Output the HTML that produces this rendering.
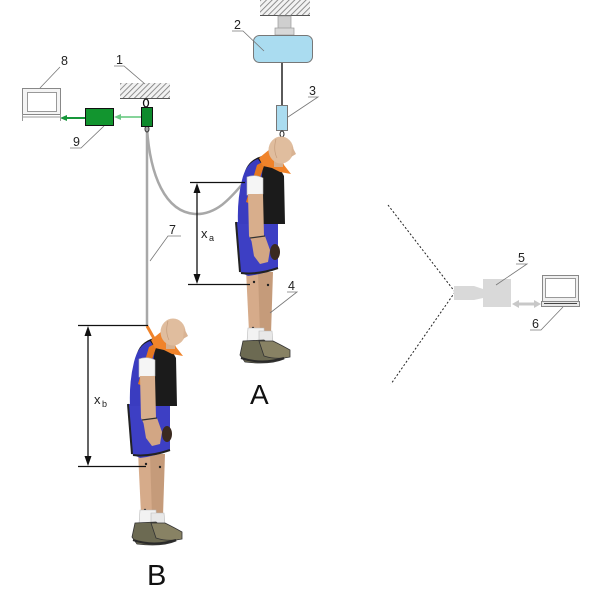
<!DOCTYPE html>
<html><head><meta charset="utf-8"><style>
html,body{margin:0;padding:0;background:#fff;}
svg{display:block;}
text{font-family:"Liberation Sans",Arial,sans-serif;}
</style></head><body>
<svg width="600" height="609" viewBox="0 0 600 609" xmlns="http://www.w3.org/2000/svg">
<defs>
<pattern id="hatch" patternUnits="userSpaceOnUse" width="4" height="4" patternTransform="rotate(45)">
<rect width="4" height="4" fill="#f2f2f2"/>
<line x1="0" y1="0" x2="0" y2="4" stroke="#777" stroke-width="1.6"/>
</pattern>
<g id="dm">
<!-- legs -->
<polygon points="246,270 262,270 263,332 249,332" fill="#d6ab8a"/>
<polygon points="258,272 273,272 271,334 260,334" fill="#c59b7a"/>
<circle cx="254" cy="282" r="1.2" fill="#222"/>
<circle cx="268" cy="285" r="1.2" fill="#222"/>
<circle cx="253" cy="328" r="1.2" fill="#222"/>
<!-- socks -->
<path d="M248,328 L264,328 L265,342 L247,342 Z" fill="#f2f2f2" stroke="#bbb" stroke-width="0.6"/>
<path d="M259,331 L272,331 L273,343 L259,343 Z" fill="#e8e8e8" stroke="#bbb" stroke-width="0.6"/>
<!-- shoes -->
<path d="M243,341 L264,340 Q272,347 282,351 L284,359 Q270,365 245,362 L240,355 Z" fill="#6c6a52" stroke="#333" stroke-width="0.8"/>
<path d="M259,341 L273,341 Q283,346 290,350 L290,357 Q276,360 264,356 Z" fill="#888264" stroke="#333" stroke-width="0.8"/>
<path d="M241,358 Q262,365 284,358" fill="none" stroke="#2a2a2a" stroke-width="2"/>
<!-- shorts -->
<path d="M236,222 L278,222 L278,268 Q264,274 248,276 L240,272 Z" fill="#3d3fc4"/>
<path d="M241,273 Q258,275 278,268" fill="none" stroke="#222" stroke-width="2"/>
<path d="M236,222 L240,272" fill="none" stroke="#222" stroke-width="2"/>
<!-- torso -->
<path d="M244,175 Q247,160 262,156 L275,160 L284,176 L285,224 L238,224 Q238,198 244,175 Z" fill="#1b1b1b"/>
<path d="M242,180 Q246,163 258,159 L263,166 L256,224 L238,224 Q237,200 242,180 Z" fill="#3a3cc0"/>
<!-- harness -->
<path d="M257,165 L266,160 L251,204 L246,202 Z" fill="#e57820"/>
<path d="M259,158 L270,149 L278,151 L284,165 L291,174 L280,172 L272,168 L263,166 Z" fill="#f0832a"/>
<!-- neck/head -->
<rect x="274" y="158" width="9" height="9" fill="#d5b090"/>
<ellipse cx="281" cy="150" rx="12.5" ry="13.5" fill="#e0bd9e"/>
<path d="M292,146 L296,154 L291,157 Z" fill="#d9b393"/>
<path d="M276,139 Q273,150 277,158" fill="none" stroke="#c49c7c" stroke-width="0.7"/>
<!-- arm -->
<path d="M247,177 Q255,174 263,178 L263,194 L247,195 Z" fill="#f5f5f5" stroke="#bbb" stroke-width="0.6"/>
<path d="M248,194 L263,194 L264,236 L266,240 L252,242 L249,236 Z" fill="#d8ae8c"/>
<path d="M251,238 L265,236 L270,250 L268,262 L260,264 L254,256 Z" fill="#d2a684"/>
<line x1="250" y1="238" x2="265" y2="236" stroke="#333" stroke-width="1.2"/>
<ellipse cx="275" cy="252" rx="5" ry="8" fill="#3b2a20"/>
</g>
</defs>

<!-- ceiling 1 -->
<rect x="120" y="83" width="50" height="15" fill="url(#hatch)"/>
<line x1="120" y1="98.5" x2="170" y2="98.5" stroke="#555" stroke-width="1"/>
<ellipse cx="146" cy="103" rx="2.5" ry="4" fill="none" stroke="#111" stroke-width="1.3"/>
<!-- cables 7 -->
<line x1="147" y1="126" x2="147" y2="326" stroke="#a8a8a8" stroke-width="2.5"/>
<path d="M147,128 C150,175 165,212 195,214 C218,215 233,195 245,181" fill="none" stroke="#a8a8a8" stroke-width="2.5"/>
<ellipse cx="147" cy="129" rx="2" ry="3" fill="none" stroke="#333" stroke-width="1"/>
<!-- sensor green -->
<rect x="141.5" y="107.5" width="11" height="19" fill="#0e8a2c" stroke="#111" stroke-width="1"/>
<line x1="141" y1="117" x2="120" y2="117" stroke="#86d49a" stroke-width="2"/>
<polygon points="114,117 121,114 121,120" fill="#6cc884"/>
<!-- box 9 -->
<rect x="85.5" y="108.5" width="28" height="17" fill="#12952f" stroke="#111" stroke-width="1"/>
<line x1="85" y1="118" x2="66" y2="118" stroke="#16963a" stroke-width="2"/>
<polygon points="60,118 67,115 67,121" fill="#16963a"/>
<!-- monitor 8 -->
<rect x="22.5" y="88.5" width="38" height="26" fill="#f4f4f4" stroke="#888" stroke-width="1"/>
<rect x="27.5" y="92.5" width="29" height="19" fill="#fff" stroke="#999" stroke-width="1"/>
<line x1="22" y1="117" x2="61" y2="117" stroke="#999" stroke-width="1"/>
<line x1="22.5" y1="114" x2="22.5" y2="121" stroke="#999" stroke-width="1"/>
<line x1="60.5" y1="114" x2="60.5" y2="121" stroke="#999" stroke-width="1"/>

<!-- ceiling 2 -->
<rect x="260" y="0" width="50" height="15" fill="url(#hatch)"/>
<line x1="260" y1="15.5" x2="310" y2="15.5" stroke="#555" stroke-width="1"/>
<rect x="278" y="16" width="13" height="14" fill="#cfcfcf" stroke="#999" stroke-width="0.7"/>
<rect x="275" y="28" width="19" height="7" fill="#d8d8d8" stroke="#999" stroke-width="0.7"/>
<!-- box 2 -->
<rect x="253.5" y="35.5" width="59" height="27" rx="6" fill="#aadcf0" stroke="#777" stroke-width="1"/>
<line x1="282" y1="63" x2="282" y2="105" stroke="#222" stroke-width="1.5"/>
<!-- box 3 -->
<rect x="276.5" y="105.5" width="11" height="25" fill="#aadcf0" stroke="#777" stroke-width="1"/>
<ellipse cx="282" cy="134" rx="2" ry="3" fill="none" stroke="#222" stroke-width="1"/>

<!-- dummies -->
<use href="#dm"/>
<use href="#dm" transform="translate(-108,182)"/>
<!-- B harness to cable -->
<path d="M147,326 L152,335 L158,345" fill="none" stroke="#f0832a" stroke-width="3"/>

<!-- dimension A -->
<line x1="190" y1="182.5" x2="245" y2="182.5" stroke="#111" stroke-width="1.2"/>
<line x1="188" y1="284.5" x2="250" y2="284.5" stroke="#111" stroke-width="1.2"/>
<line x1="197" y1="190" x2="197" y2="276" stroke="#111" stroke-width="1.3"/>
<polygon points="197,183 193.5,193 200.5,193" fill="#111"/>
<polygon points="197,284 193.5,274 200.5,274" fill="#111"/>
<text x="201" y="238" font-size="13" fill="#222">x</text>
<text x="209" y="241" font-size="9" fill="#222">a</text>

<!-- dimension B -->
<line x1="78" y1="325.5" x2="148" y2="325.5" stroke="#111" stroke-width="1.2"/>
<line x1="78" y1="466.5" x2="146" y2="466.5" stroke="#111" stroke-width="1.2"/>
<line x1="88" y1="333" x2="88" y2="459" stroke="#111" stroke-width="1.3"/>
<polygon points="88,326 84.5,336 91.5,336" fill="#111"/>
<polygon points="88,466 84.5,456 91.5,456" fill="#111"/>
<text x="94" y="404" font-size="13" fill="#222">x</text>
<text x="102" y="407" font-size="9" fill="#222">b</text>

<!-- big labels -->
<text x="250" y="404" font-size="28" fill="#111">A</text>
<text x="147" y="585" font-size="29" fill="#111">B</text>

<!-- camera -->
<line x1="388" y1="205" x2="455" y2="292" stroke="#222" stroke-width="1" stroke-dasharray="2,2"/>
<line x1="455" y1="292" x2="391" y2="384" stroke="#222" stroke-width="1" stroke-dasharray="2,2"/>
<path d="M454,286 L474,286 L483,289 L483,298 L474,300 L454,300 Z" fill="#d9d9d9"/>
<rect x="483" y="279" width="28" height="28" fill="#d9d9d9"/>
<line x1="518" y1="304" x2="535" y2="304" stroke="#c8c8c8" stroke-width="3"/>
<polygon points="512,304 519,300 519,308" fill="#c8c8c8"/>
<polygon points="541,304 534,300 534,308" fill="#c8c8c8"/>
<!-- laptop 6 -->
<rect x="542.5" y="275.5" width="36" height="26" fill="#f0f0f0" stroke="#888" stroke-width="1"/>
<rect x="545.5" y="278.5" width="30" height="19" fill="#fff" stroke="#999" stroke-width="1"/>
<rect x="541.5" y="301.5" width="38" height="5" fill="#e8e8e8" stroke="#888" stroke-width="1"/>
<line x1="544" y1="303.5" x2="577" y2="303.5" stroke="#444" stroke-width="1"/>

<!-- numeric labels & leaders -->
<g font-size="12.5" fill="#222">
<text x="116" y="64">1</text>
<text x="61" y="65">8</text>
<text x="73" y="146">9</text>
<text x="234" y="29">2</text>
<text x="309" y="95">3</text>
<text x="288" y="290">4</text>
<text x="169" y="234">7</text>
<text x="518" y="262">5</text>
<text x="532" y="328">6</text>
</g>
<g stroke="#777" stroke-width="0.8" fill="none">
<path d="M114,66 L124,66 L145,84"/>
<path d="M60,67 L40,88"/>
<path d="M70,148 L81,148 L104,126"/>
<path d="M232,31 L243,31 L264,51"/>
<path d="M308,97 L318,97 L288,117"/>
<path d="M287,292 L297,292 L270,313"/>
<path d="M181,236 L168,236 L150,261"/>
<path d="M516,264 L527,264 L496,285"/>
<path d="M530,330 L541,330 L563,307"/>
</g>
</svg>
</body></html>
